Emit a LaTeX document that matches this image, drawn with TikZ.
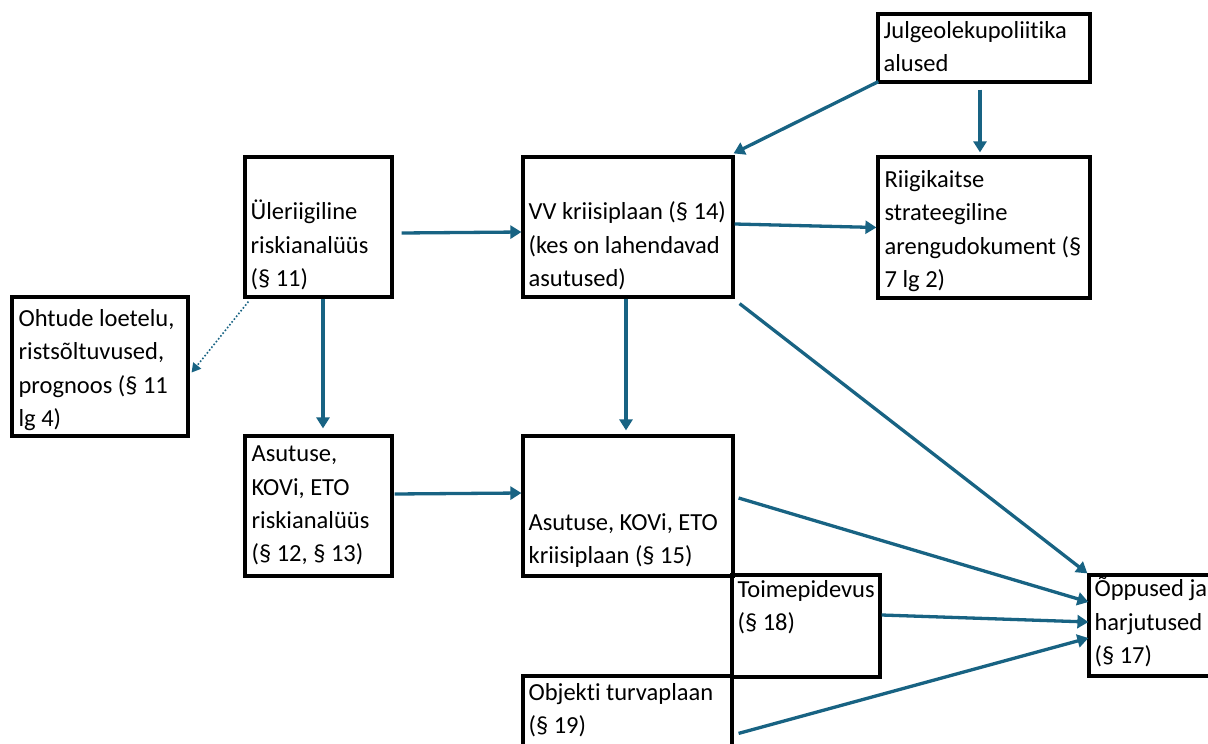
\documentclass[tikz,border=0pt]{standalone}
\usepackage{fontspec}
\setmainfont{Carlito}[Ligatures=NoCommon]
\usetikzlibrary{calc,arrows.meta}
\definecolor{arrowblue}{HTML}{186383}
\tikzset{
  box/.style={draw=black, line width=3.2pt, rectangle, inner sep=0pt},
  txt/.style={anchor=base west, align=left, inner sep=0pt, text=black,
    font=\fontsize{24.5}{33.4}\selectfont},
  arr/.style={draw=arrowblue, line width=3.3pt, -{Triangle[length=11pt,width=13pt]}},
  dotarr/.style={draw=arrowblue, line width=1.6pt, dotted, -{Triangle[length=9pt,width=10pt]}}
}
\begin{document}
\begin{tikzpicture}[x=1pt,y=-1pt]
\useasboundingbox (0,0) rectangle (1208,744);
\clip (0,0) rectangle (1208,744);
% boxes
\node[box, minimum width=212pt, minimum height=68pt] (jul) at (984,48) {};
\node[box, minimum width=212pt, minimum height=141pt] (rk) at (984,227.5) {};
\node[box, minimum width=210pt, minimum height=140pt] (vv) at (628,227) {};
\node[box, minimum width=147pt, minimum height=140pt] (ul) at (318.5,227) {};
\node[box, minimum width=176pt, minimum height=139pt] (oh) at (100,366.5) {};
\node[box, minimum width=147pt, minimum height=140pt] (ar) at (318.5,506) {};
\node[box, minimum width=210pt, minimum height=140pt] (ak) at (628,506) {};
\node[box, minimum width=148pt, minimum height=102pt] (tp) at (806,626) {};
\node[box, minimum width=141pt, minimum height=101pt] (op) at (1159.5,625.5) {};
\node[box, minimum width=209pt, minimum height=124pt] (ob) at (627.5,738) {};
% texts (anchored at the baseline of the last line)
\node[txt] (jult) at ($(jul.north west)+(7,59)$) {Julgeolekupoliitika\\alused};
\node[txt] (rkt) at ($(rk.north west)+(8,132)$) {Riigikaitse\\strateegiline\\arengudokument (§\\7 lg 2)};
\node[txt] (vvt) at ($(vv.north west)+(7,131)$) {VV kriisiplaan (§ 14)\\(kes on lahendavad\\asutused)};
\node[txt] (ult) at ($(ul.north west)+(7,131)$) {Üleriigiline\\riskianalüüs\\(§ 11)};
\node[txt] (oht) at ($(oh.north west)+(8,131)$) {Ohtude loetelu,\\ristsõltuvused,\\prognoos (§ 11\\lg 4)};
\node[txt] (art) at ($(ar.north west)+(8,127.5)$) {Asutuse,\\KOVi, ETO\\riskianalüüs\\(§ 12, § 13)};
\node[txt] (akt) at ($(ak.north west)+(7,129.5)$) {Asutuse, KOVi, ETO\\kriisiplaan (§ 15)};
\node[txt] (tpt) at ($(tp.north west)+(7,57)$) {Toimepidevus\\(§ 18)};
\node[txt] (opt) at ($(op.north west)+(7,90)$) {Õppused ja\\harjutused\\(§ 17)};
\node[txt] (obt) at ($(ob.north west)+(7,59.5)$) {Objekti turvaplaan\\(§ 19)};
% connectors
\draw[arr] ($(ul.east)+(8,6)$) -- ($(vv.west)+(0,5)$);
\draw[arr] ($(vv.east)+(0,-3)$) -- ($(rk.west)+(0,0)$);
\draw[arr] ($(jul.south west)+(2,-2)$) -- ($(vv.north east)+(-1,-2)$);
\draw[arr] ($(jul.south)+(-4,6)$) -- ($(rk.north)+(-4,-3)$);
\draw[arr] ($(ul.south)+(4.5,0)$) -- ($(ar.north)+(4.5,-6)$);
\draw[dotarr] ($(ul.south west)+(5,3)$) -- ($(oh.east)+(2,6)$);
\draw[arr] ($(vv.south)+(-2,0)$) -- ($(ak.north)+(-2,-4)$);
\draw[arr] ($(ar.east)+(1,-12)$) -- ($(ak.west)+(0,-13)$);
\draw[arr] ($(vv.south east)+(5,5)$) -- (op.north west);
\draw[arr] ($(ak.east)+(4,-8)$) -- ($(op.west)+(1,-23.5)$);
\draw[arr] ($(tp.east)+(0,-11)$) -- ($(op.west)+(1,-3.5)$);
\draw[arr] ($(ob.north east)+(5,59)$) -- ($(op.west)+(1,12.5)$);
\end{tikzpicture}
\end{document}
